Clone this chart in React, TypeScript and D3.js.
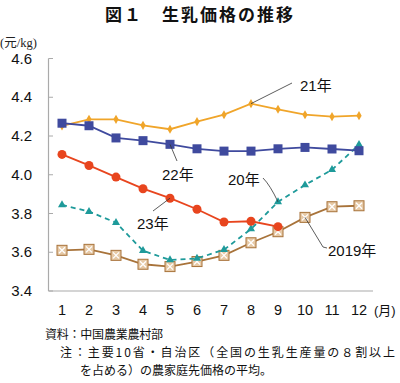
import React from "react";
import * as d3 from "d3";

const months = [1, 2, 3, 4, 5, 6, 7, 8, 9, 10, 11, 12];
const yTicks = [3.4, 3.6, 3.8, 4.0, 4.2, 4.4, 4.6];
const s2019 = [3.61, 3.615, 3.584, 3.538, 3.526, 3.552, 3.584, 3.649, 3.706, 3.78, 3.835, 3.84];
const s2020 = [3.844, 3.81, 3.753, 3.608, 3.56, 3.568, 3.613, 3.72, 3.86, 3.947, 4.026, 4.155];
const s2021 = [4.252, 4.286, 4.286, 4.255, 4.235, 4.274, 4.31, 4.367, 4.338, 4.31, 4.3, 4.305];
const s2022 = [4.266, 4.253, 4.19, 4.176, 4.157, 4.134, 4.122, 4.122, 4.134, 4.141, 4.133, 4.124];
const s2023 = [4.105, 4.048, 3.988, 3.928, 3.879, 3.822, 3.756, 3.76, 3.732];

const W = 400;
const H = 383;
const x = d3.scaleLinear().domain([1, 12]).range([62, 359]);
const y = d3.scaleLinear().domain([3.4, 4.6]).range([291, 58.5]);
const line = d3
  .line<number>()
  .x((_, i) => x(months[i]))
  .y((d) => y(d));

const sans = "'Liberation Sans', Arial, 'Noto Sans CJK JP', sans-serif";
const cjk = "'Noto Sans CJK JP', sans-serif";

export default function App() {
  const tri = d3.symbol(d3.symbolTriangle, 28)() as string;
  const dia = d3.symbol(d3.symbolDiamond, 24)() as string;
  return (
    <svg
      width={W}
      height={H}
      style={{ position: "absolute", left: 0, top: 0, background: "#fff" }}
    >
      <text x={105} y={21} fontFamily={cjk} fontWeight={700} fontSize={17} letterSpacing={2} fill="#111">
        図１　生乳価格の推移
      </text>
      <text x={0} y={47} fontFamily="'Liberation Serif', 'Noto Sans CJK JP', serif" fontSize={12.5} fill="#222">
        (元/kg)
      </text>

      {/* axes */}
      <line x1={48.5} x2={48.5} y1={y(4.6)} y2={291} stroke="#aaa" strokeWidth={1.2} />
      <line x1={48.5} x2={373} y1={291} y2={291} stroke="#aaa" strokeWidth={1.2} />
      {yTicks.map((t) => (
        <g key={t}>
          <line x1={48.5} x2={53} y1={y(t)} y2={y(t)} stroke="#aaa" strokeWidth={1} />
          <text x={32} y={y(t) + 5} textAnchor="end" fontFamily={sans} fontSize={15} fill="#111">
            {t.toFixed(1)}
          </text>
        </g>
      ))}
      {months.map((m) => (
        <text key={m} x={x(m)} y={315} textAnchor="middle" fontFamily={sans} fontSize={14.5} fill="#111">
          {m}
        </text>
      ))}
      <text x={374} y={315} fontFamily={sans} fontSize={13} fill="#111">
        (月)
      </text>

      {/* 2019 */}
      <path d={line(s2019) as string} fill="none" stroke="#A8733A" strokeWidth={1.8} />
      {s2019.map((v, i) => (
        <g key={i} transform={`translate(${x(months[i])},${y(v)})`}>
          <rect x={-5} y={-5} width={10} height={10} fill="#E6C9A6" stroke="#A8733A" strokeWidth={1} />
          <path d="M-3,-3L3,3M-3,3L3,-3" stroke="#fff" strokeWidth={1.3} />
        </g>
      ))}

      {/* 2020 */}
      <path d={line(s2020) as string} fill="none" stroke="#1E9A9A" strokeWidth={1.8} strokeDasharray="5,4" />
      {s2020.map((v, i) => (
        <path key={i} d={tri} transform={`translate(${x(months[i])},${y(v)})`} fill="#1E9A9A" />
      ))}

      {/* 2021 */}
      <path d={line(s2021) as string} fill="none" stroke="#F0A52A" strokeWidth={1.8} />
      {s2021.map((v, i) => (
        <path key={i} d={dia} transform={`translate(${x(months[i])},${y(v)})`} fill="#F0A52A" />
      ))}

      {/* 2022 */}
      <path d={line(s2022) as string} fill="none" stroke="#3F4A9E" strokeWidth={1.8} />
      {s2022.map((v, i) => (
        <rect key={i} x={x(months[i]) - 4.5} y={y(v) - 4.5} width={9} height={9} fill="#3F4A9E" />
      ))}

      {/* 2023 */}
      <path d={line(s2023) as string} fill="none" stroke="#E8451E" strokeWidth={1.8} />
      {s2023.map((v, i) => (
        <circle key={i} cx={x(months[i])} cy={y(v)} r={4.5} fill="#E8451E" />
      ))}

      {/* annotations */}
      <g stroke="#333" strokeWidth={0.8} fill="none">
        <path d={`M292,83L${x(8)},${y(s2021[7])}`} />
        <path d={`M${x(5)},${y(s2022[4])}L177,161`} />
        <path d={`M263,178Q270,185 ${x(9)},${y(s2020[8])}`} />
        <path d={`M153,211L${x(5)},${y(s2023[4])}`} />
        <path d={`M${x(10)},${y(s2019[9])}L323,247L327,248`} />
      </g>
      <g fontFamily={sans} fontSize={15} fill="#111">
        <text x={300} y={91}>21年</text>
        <text x={162} y={180}>22年</text>
        <text x={228} y={185}>20年</text>
        <text x={137} y={229}>23年</text>
        <text x={328} y={256}>2019年</text>
      </g>

      <g fontFamily={cjk} fontSize={12} fill="#111">
        <text x={45} y={339} textLength={118} lengthAdjust="spacing">資料：中国農業農村部</text>
        <text x={60} y={357} textLength={335} lengthAdjust="spacing">注：主要10省・自治区（全国の生乳生産量の８割以上</text>
        <text x={80} y={375} textLength={192} lengthAdjust="spacing">を占める）の農家庭先価格の平均。</text>
      </g>
    </svg>
  );
}
